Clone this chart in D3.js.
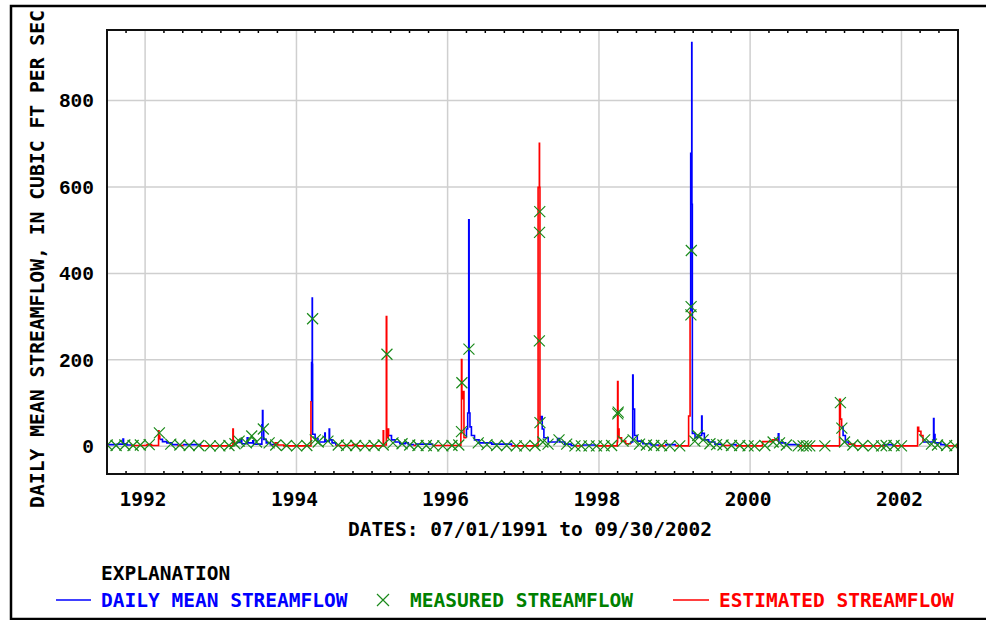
<!DOCTYPE html>
<html>
<head>
<meta charset="utf-8">
<script src="https://d3js.org/d3.v7.min.js"></script>
<style>
  body { margin: 0; background: #fff; }
  text { font-family: "DejaVu Sans Mono", monospace; font-weight: bold; }
</style>
</head>
<body>
<script>
// y axis ticks (cubic ft per sec) and labelled years
var yTicks = [0, 200, 400, 600, 800];
var yearLabels = [1992, 1994, 1996, 1998, 2000, 2002];

// daily mean streamflow: [date, cfs, code]
// code "A" = daily mean (blue), "E" = estimated (red); value holds until next row
var dailyFlow = [
  ["1991-07-01", 2, "E"], ["1991-07-08", 4, "A"], ["1991-08-20", 5, "A"], ["1991-09-16", 17, "A"],
  ["1991-09-19", 6, "A"], ["1991-10-05", 3, "A"], ["1991-10-25", 2, "E"], ["1992-01-10", 4, "E"],
  ["1992-02-01", 2, "E"], ["1992-03-06", 36, "E"], ["1992-03-08", 24, "E"], ["1992-03-12", 16, "A"],
  ["1992-03-25", 11, "A"], ["1992-04-15", 8, "A"], ["1992-05-10", 4, "A"], ["1992-06-05", 2, "E"],
  ["1992-07-05", 4, "A"], ["1992-09-25", 1, "E"], ["1993-02-28", 40, "E"], ["1993-03-02", 12, "E"],
  ["1993-03-08", 6, "E"], ["1993-03-20", 9, "A"], ["1993-04-08", 16, "A"], ["1993-04-12", 6, "A"],
  ["1993-05-08", 20, "A"], ["1993-05-12", 8, "A"], ["1993-06-04", 13, "A"], ["1993-06-08", 5, "A"],
  ["1993-07-18", 50, "A"], ["1993-07-21", 83, "A"], ["1993-07-23", 40, "A"], ["1993-07-27", 16, "A"],
  ["1993-08-08", 8, "A"], ["1993-08-28", 4, "A"], ["1993-09-12", 3, "E"], ["1993-09-20", 8, "E"],
  ["1993-10-02", 3, "E"], ["1993-11-01", 1, "E"], ["1994-03-12", 103, "E"], ["1994-03-15", 194, "A"],
  ["1994-03-18", 343, "A"], ["1994-03-19", 190, "A"], ["1994-03-20", 28, "A"], ["1994-04-01", 18, "A"],
  ["1994-04-15", 10, "A"], ["1994-05-18", 31, "A"], ["1994-05-20", 12, "A"], ["1994-06-08", 40, "A"],
  ["1994-06-10", 15, "A"], ["1994-06-22", 8, "A"], ["1994-07-10", 2, "E"], ["1994-10-01", 4, "E"],
  ["1994-10-20", 1, "E"], ["1995-02-24", 36, "E"], ["1995-02-26", 3, "E"], ["1995-03-11", 300, "E"],
  ["1995-03-13", 20, "E"], ["1995-03-20", 40, "E"], ["1995-03-22", 25, "A"], ["1995-04-05", 15, "A"],
  ["1995-04-22", 10, "A"], ["1995-05-15", 6, "A"], ["1995-06-10", 8, "A"], ["1995-06-25", 4, "A"],
  ["1995-07-20", 2, "E"], ["1995-08-01", 5, "A"], ["1995-10-20", 2, "E"], ["1996-03-05", 30, "E"],
  ["1996-03-08", 201, "E"], ["1996-03-10", 110, "E"], ["1996-03-15", 127, "E"], ["1996-03-20", 20, "E"],
  ["1996-04-01", 40, "A"], ["1996-04-07", 77, "A"], ["1996-04-12", 524, "A"], ["1996-04-14", 77, "A"],
  ["1996-04-18", 45, "A"], ["1996-04-25", 25, "A"], ["1996-05-10", 15, "A"], ["1996-06-01", 8, "A"],
  ["1996-08-01", 5, "A"], ["1996-11-05", 1, "E"], ["1997-03-13", 599, "E"], ["1997-03-19", 701, "E"],
  ["1997-03-20", 599, "E"], ["1997-03-22", 60, "E"], ["1997-03-25", 69, "A"], ["1997-04-02", 40, "A"],
  ["1997-04-10", 20, "A"], ["1997-05-01", 10, "A"], ["1997-06-15", 18, "A"], ["1997-06-25", 10, "A"],
  ["1997-07-20", 5, "A"], ["1997-08-20", 2, "A"], ["1997-09-05", 1, "E"], ["1997-10-15", 3, "A"],
  ["1997-12-15", 1, "E"], ["1998-03-30", 10, "E"], ["1998-04-01", 150, "E"], ["1998-04-03", 40, "E"],
  ["1998-04-08", 20, "E"], ["1998-04-20", 12, "E"], ["1998-05-10", 6, "E"], ["1998-06-05", 10, "A"],
  ["1998-06-13", 165, "A"], ["1998-06-15", 86, "A"], ["1998-06-22", 25, "A"], ["1998-07-05", 12, "A"],
  ["1998-08-01", 6, "A"], ["1998-09-10", 3, "A"], ["1998-10-15", 1, "E"], ["1998-11-20", 4, "A"],
  ["1999-01-05", 1, "E"], ["1999-03-10", 70, "E"], ["1999-03-17", 312, "E"], ["1999-03-20", 678, "A"],
  ["1999-03-25", 934, "A"], ["1999-03-26", 560, "A"], ["1999-03-28", 30, "A"], ["1999-04-10", 20, "A"],
  ["1999-04-22", 25, "A"], ["1999-05-12", 70, "A"], ["1999-05-14", 30, "A"], ["1999-05-25", 15, "A"],
  ["1999-06-15", 10, "A"], ["1999-07-15", 5, "A"], ["1999-08-15", 2, "E"], ["1999-10-01", 4, "A"],
  ["1999-10-25", 1, "E"], ["2000-03-01", 11, "E"], ["2000-04-18", 15, "E"], ["2000-05-16", 29, "A"],
  ["2000-05-19", 8, "A"], ["2000-06-20", 4, "A"], ["2000-08-20", 1, "E"], ["2001-03-08", 109, "E"],
  ["2001-03-12", 63, "E"], ["2001-03-18", 46, "A"], ["2001-03-25", 25, "A"], ["2001-04-05", 10, "A"],
  ["2001-04-20", 5, "E"], ["2001-05-20", 1, "E"], ["2001-10-10", 4, "A"], ["2001-11-20", 1, "E"],
  ["2002-03-20", 44, "E"], ["2002-03-25", 35, "E"], ["2002-04-05", 25, "E"], ["2002-04-15", 10, "A"],
  ["2002-06-05", 64, "A"], ["2002-06-07", 27, "A"], ["2002-06-12", 8, "A"], ["2002-07-10", 4, "A"],
  ["2002-08-01", 1, "E"], ["2002-09-30", 1, "E"]
];

// field measurements: [date, cfs]
var measured = [
  ["1991-07-02", 3], ["1991-08-14", 2], ["1991-09-25", 3], ["1991-11-04", 2], ["1991-12-09", 3],
  ["1992-01-21", 4], ["1992-03-10", 31], ["1992-05-04", 5], ["1992-06-17", 3], ["1992-08-01", 2],
  ["1992-09-16", 2], ["1992-11-10", 1], ["1992-12-27", 1], ["1993-02-09", 2], ["1993-03-10", 6],
  ["1993-03-30", 12], ["1993-05-04", 8], ["1993-05-30", 24], ["1993-06-22", 10], ["1993-07-25", 40],
  ["1993-08-22", 8], ["1993-09-23", 3], ["1993-11-14", 2], ["1994-01-02", 1], ["1994-02-20", 2],
  ["1994-03-20", 295], ["1994-04-02", 15], ["1994-04-16", 10], ["1994-06-02", 12], ["1994-07-22", 3],
  ["1994-08-31", 2], ["1994-10-14", 2], ["1994-11-28", 1], ["1995-01-11", 2], ["1995-02-24", 3],
  ["1995-03-14", 213], ["1995-04-12", 8], ["1995-05-26", 6], ["1995-07-02", 3], ["1995-08-11", 2],
  ["1995-09-20", 2], ["1995-10-26", 1], ["1995-12-09", 1], ["1996-01-22", 2], ["1996-02-24", 3],
  ["1996-03-08", 34], ["1996-03-10", 147], ["1996-04-13", 225], ["1996-05-28", 8], ["1996-07-09", 4],
  ["1996-08-25", 2], ["1996-10-12", 2], ["1996-11-28", 1], ["1997-01-08", 1], ["1997-02-26", 2],
  ["1997-03-19", 244], ["1997-03-20", 495], ["1997-03-21", 543], ["1997-03-22", 55], ["1997-04-05", 10],
  ["1997-04-30", 5], ["1997-06-22", 15], ["1997-07-29", 5], ["1997-09-07", 1], ["1997-10-08", 1],
  ["1997-11-14", 1], ["1997-12-20", 1], ["1998-01-26", 1], ["1998-03-03", 2], ["1998-04-02", 75],
  ["1998-04-04", 79], ["1998-04-27", 12], ["1998-06-15", 15], ["1998-07-16", 5], ["1998-08-18", 3],
  ["1998-09-23", 2], ["1998-10-30", 2], ["1998-12-09", 1], ["1999-01-26", 1], ["1999-03-21", 304],
  ["1999-03-22", 323], ["1999-03-23", 453], ["1999-04-09", 12], ["1999-04-23", 25], ["1999-05-19", 15],
  ["1999-06-21", 6], ["1999-07-23", 4], ["1999-08-23", 3], ["1999-10-03", 2], ["1999-11-12", 2],
  ["1999-12-22", 1], ["2000-01-22", 1], ["2000-03-12", 2], ["2000-04-21", 10], ["2000-05-22", 8],
  ["2000-06-24", 3], ["2000-08-20", 1], ["2000-09-13", 1], ["2000-09-29", 1], ["2000-10-15", 1],
  ["2000-12-27", 1], ["2001-03-12", 101], ["2001-03-19", 42], ["2001-04-01", 10], ["2001-05-11", 3],
  ["2001-06-28", 2], ["2001-08-18", 1], ["2001-09-27", 1], ["2001-10-19", 2], ["2001-11-26", 2],
  ["2002-01-01", 1], ["2002-04-23", 15], ["2002-05-26", 5], ["2002-06-24", 3], ["2002-08-07", 2],
  ["2002-09-16", 1]
];

var parse = d3.timeParse("%Y-%m-%d");
var blue = "#0000ff", red = "#ff0000", green = "#1a8a1a";

var svg = d3.select("body").append("svg")
    .attr("width", 986)
    .attr("height", 620);

var x = d3.scaleTime()
    .domain([parse("1991-07-01"), parse("2002-10-01")])
    .range([107, 958]);
var y = d3.scaleLinear()
    .domain([-64, 963])
    .range([474, 30]);

// outer frame (runs off the right edge)
svg.append("rect")
    .attr("x", 11).attr("y", 6)
    .attr("width", 1000).attr("height", 613)
    .attr("fill", "none")
    .attr("stroke", "#000")
    .attr("stroke-width", 2.5);

svg.append("clipPath").attr("id", "plot")
    .append("rect")
    .attr("x", 107).attr("y", 30)
    .attr("width", 851).attr("height", 444);

// grid
svg.selectAll(".vgrid")
    .data(yearLabels)
    .enter().append("line")
    .attr("x1", function(d) { return x(new Date(d, 0, 1)); })
    .attr("x2", function(d) { return x(new Date(d, 0, 1)); })
    .attr("y1", 30).attr("y2", 474)
    .attr("stroke", "#cfcfcf")
    .attr("stroke-width", 1.5);

svg.selectAll(".hgrid")
    .data(yTicks)
    .enter().append("line")
    .attr("x1", 107).attr("x2", 958)
    .attr("y1", function(d) { return y(d); })
    .attr("y2", function(d) { return y(d); })
    .attr("stroke", "#cfcfcf")
    .attr("stroke-width", 1.5);

// quarterly minor ticks, top and bottom, pointing inward
var quarters = d3.timeMonth.every(3).range(parse("1991-07-02"), parse("2002-10-01"))
    .filter(function(d) { return !(d.getMonth() === 0 && d.getFullYear() % 2 === 0); });
var tickG = svg.append("g").attr("stroke", "#000").attr("stroke-width", 1.5);
quarters.forEach(function(d) {
    tickG.append("line").attr("x1", x(d)).attr("x2", x(d)).attr("y1", 30).attr("y2", 33);
    tickG.append("line").attr("x1", x(d)).attr("x2", x(d)).attr("y1", 471).attr("y2", 474);
});

// build coloured runs from the daily rows
var rows = dailyFlow.map(function(d) { return { date: parse(d[0]), value: d[1], code: d[2] }; });
var runs = [];
rows.forEach(function(d, i) {
    if (i === 0 || d.code !== rows[i - 1].code) runs.push({ code: d.code, pts: [] });
    runs[runs.length - 1].pts.push(d);
});
runs.forEach(function(r, i) {
    if (i === runs.length - 1) return;
    var last = r.pts[r.pts.length - 1], next = runs[i + 1].pts[0];
    if (last.value > next.value) {
        r.pts.push({ date: next.date, value: next.value });
    } else {
        r.pts.push({ date: next.date, value: last.value });
        runs[i + 1].pts.unshift({ date: next.date, value: last.value });
    }
});

var line = d3.line()
    .x(function(d) { return x(d.date); })
    .y(function(d) { return y(d.value); })
    .curve(d3.curveStepAfter);

var flowG = svg.append("g").attr("clip-path", "url(#plot)");
["A", "E"].forEach(function(code) {
    flowG.selectAll(".run" + code)
        .data(runs.filter(function(r) { return r.code === code; }))
        .enter().append("path")
        .attr("d", function(r) { return line(r.pts); })
        .attr("fill", "none")
        .attr("stroke", code === "A" ? blue : red)
        .attr("stroke-width", 1.6);
});

// measured points
var cross = "M-5.5,-5.5L5.5,5.5M-5.5,5.5L5.5,-5.5";
flowG.selectAll(".meas")
    .data(measured)
    .enter().append("path")
    .attr("d", cross)
    .attr("transform", function(d) { return "translate(" + x(parse(d[0])) + "," + y(d[1]) + ")"; })
    .attr("fill", "none")
    .attr("stroke", green)
    .attr("stroke-width", 1.2);

// plot border
svg.append("rect")
    .attr("x", 107).attr("y", 30)
    .attr("width", 851).attr("height", 444)
    .attr("fill", "none")
    .attr("stroke", "#111")
    .attr("stroke-width", 2);

// y tick labels
svg.selectAll(".ylab")
    .data(yTicks)
    .enter().append("text")
    .attr("x", 94)
    .attr("y", function(d) { return y(d) + 7; })
    .attr("text-anchor", "end")
    .style("font-family", "'Liberation Mono', monospace")
    .style("font-size", "19.5px")
    .text(function(d) { return d; });

// x tick labels
svg.selectAll(".xlab")
    .data(yearLabels)
    .enter().append("text")
    .attr("x", function(d) { return x(new Date(d, 0, 1)) - 2; })
    .attr("y", 506)
    .attr("text-anchor", "middle")
    .style("font-size", "19.5px")
    .text(function(d) { return d; });

svg.append("text")
    .attr("x", 530).attr("y", 536)
    .attr("text-anchor", "middle")
    .style("font-size", "19.5px")
    .text("DATES: 07/01/1991 to 09/30/2002");

svg.append("text")
    .attr("transform", "translate(44,259) rotate(-90)")
    .attr("text-anchor", "middle")
    .style("font-size", "19.7px")
    .text("DAILY MEAN STREAMFLOW, IN CUBIC FT PER SEC");

// explanation / legend
svg.append("text")
    .attr("x", 101).attr("y", 580)
    .style("font-size", "19.5px")
    .text("EXPLANATION");

var legendY = 600;
svg.append("line").attr("x1", 56).attr("x2", 91).attr("y1", legendY).attr("y2", legendY)
    .attr("stroke", blue).attr("stroke-width", 1.5);
svg.append("text").attr("x", 101).attr("y", 607).attr("fill", blue)
    .style("font-size", "19.5px").text("DAILY MEAN STREAMFLOW");

svg.append("path").attr("d", "M-6,-6L6,6M-6,6L6,-6")
    .attr("transform", "translate(383," + legendY + ")")
    .attr("fill", "none").attr("stroke", green).attr("stroke-width", 1.2);
svg.append("text").attr("x", 410).attr("y", 607).attr("fill", "#008000")
    .style("font-size", "19.5px").text("MEASURED STREAMFLOW");

svg.append("line").attr("x1", 673).attr("x2", 709).attr("y1", legendY).attr("y2", legendY)
    .attr("stroke", red).attr("stroke-width", 1.5);
svg.append("text").attr("x", 719).attr("y", 607).attr("fill", red)
    .style("font-size", "19.5px").text("ESTIMATED STREAMFLOW");
</script>
</body>
</html>
